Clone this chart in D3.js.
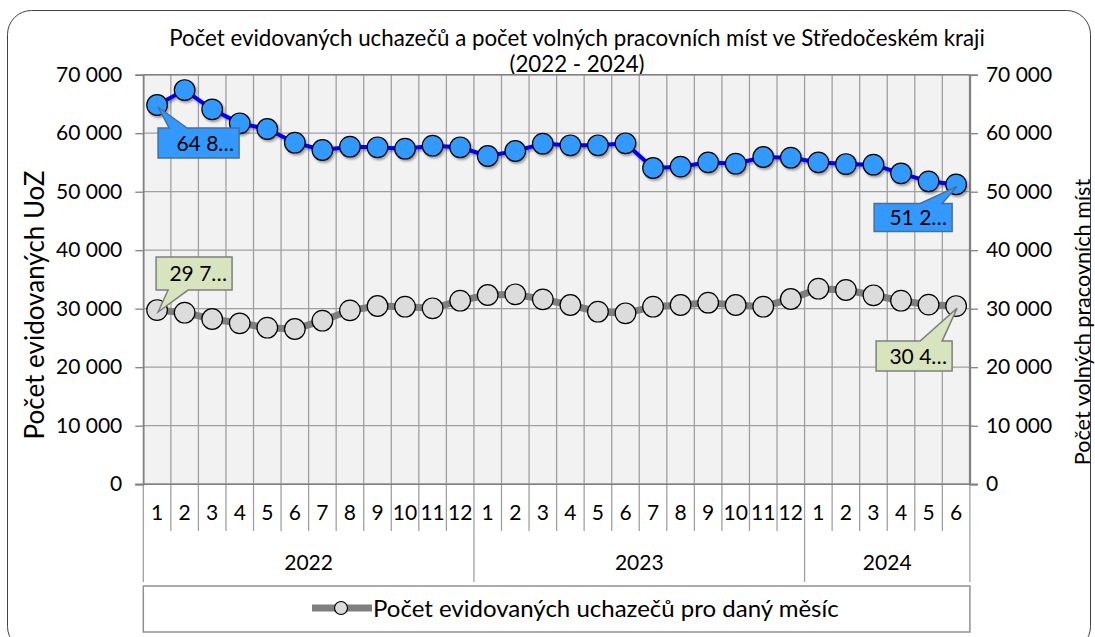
<!DOCTYPE html>
<html><head><meta charset="utf-8">
<script src="https://cdn.jsdelivr.net/npm/d3@7"></script>
<style>
body{margin:0;background:#fff}
svg{display:block}
text{font-family:Lato,"Open Sans",sans-serif;fill:#000}
</style>
</head><body>
<svg id="chart" width="1095" height="637"></svg>
<script>
// ---- data ----
const titleLines = ["Počet evidovaných uchazečů a počet volných pracovních míst ve Středočeském kraji", "(2022 - 2024)"];
const years = ["2022", "2023", "2024"];
const monthsPerYear = [12, 12, 6];
const monthLabels = ["1","2","3","4","5","6","7","8","9","10","11","12",
                     "1","2","3","4","5","6","7","8","9","10","11","12",
                     "1","2","3","4","5","6"];
// Počet evidovaných uchazečů (grey series, left axis)
const uchazeci = [29770, 29320, 28240, 27500, 26750, 26530, 27950, 29720, 30460, 30340, 30070, 31370,
                  32340, 32460, 31600, 30630, 29490, 29210, 30340, 30630, 31030, 30630, 30340, 31660,
                  33420, 33200, 32290, 31370, 30690, 30450];
// Počet volných pracovních míst (blue series, right axis)
const volnaMista = [64820, 67380, 64080, 61690, 60720, 58380, 57130, 57690, 57590, 57350, 57860, 57590,
                    56100, 56960, 58210, 57930, 57930, 58270, 54050, 54280, 55020, 54790, 55930, 55810,
                    55020, 54730, 54620, 53140, 51770, 51250];
const yTicks = [0, 10000, 20000, 30000, 40000, 50000, 60000, 70000];
const yMax = 70000;
const leftAxisTitle = "Počet evidovaných UoZ";
const rightAxisTitle = "Počet volných pracovních míst";
const legendLabel = "Počet evidovaných uchazečů pro daný měsíc";

// ---- layout ----
const W = 1095, H = 637;
const plot = {l: 143.3, r: 969.9, t: 74.7, b: 484.2};
const FS = 21;

const svg = d3.select("#chart");
const loc = d3.formatLocale({decimal: ",", thousands: " ", grouping: [3], currency: ["", ""]});
const fmt = loc.format(",d");
const trunc = v => fmt(v).slice(0, 4) + "…";

const idx = d3.range(monthLabels.length);
const x = d3.scaleBand().domain(idx).range([plot.l, plot.r]).padding(0);
const bw = x.bandwidth();
const cx = i => x(i) + bw / 2;
const yL = d3.scaleLinear().domain([0, yMax]).range([plot.b, plot.t]);
const yR = d3.scaleLinear().domain([0, yMax]).range([plot.b, plot.t]);

const defs = svg.append("defs");
const sh = defs.append("filter").attr("id", "shadow").attr("x", "-30%").attr("y", "-30%").attr("width", "160%").attr("height", "160%");
sh.append("feDropShadow").attr("dx", 1.5).attr("dy", 2).attr("stdDeviation", 1.2).attr("flood-color", "#000").attr("flood-opacity", 0.35);

// outer border
svg.append("rect").attr("x", 7.5).attr("y", 10.5).attr("width", 1083).attr("height", 640)
  .attr("rx", 24).attr("fill", "#fff").attr("stroke", "#404040").attr("stroke-width", 1);

// title
svg.append("text").attr("x", 577).attr("y", 46).attr("text-anchor", "middle").style("font-size", "22.3px").text(titleLines[0]);
svg.append("text").attr("x", 577).attr("y", 72).attr("text-anchor", "middle").style("font-size", "22.3px").text(titleLines[1]);

// plot background
svg.append("rect").attr("x", plot.l).attr("y", plot.t).attr("width", plot.r - plot.l).attr("height", plot.b - plot.t).attr("fill", "#F2F2F2");

// horizontal gridlines
svg.append("g").selectAll("line").data(yTicks).join("line")
  .attr("x1", plot.l).attr("x2", plot.r).attr("y1", d => yL(d)).attr("y2", d => yL(d))
  .attr("stroke", "#A0A0A0").attr("stroke-width", 1.3);

// vertical gridlines + month separators
const bounds = d3.range(monthLabels.length + 1);
const yearStarts = [0];
monthsPerYear.forEach((n, k) => yearStarts.push(yearStarts[k] + n));
svg.append("g").selectAll("line").data(bounds).join("line")
  .attr("x1", i => plot.l + i * bw).attr("x2", i => plot.l + i * bw)
  .attr("y1", plot.t).attr("y2", i => yearStarts.includes(i) ? 582 : 531)
  .attr("stroke", "#A0A0A0").attr("stroke-width", 1.3);

// plot frame top/right
svg.append("line").attr("x1", plot.l).attr("x2", plot.r).attr("y1", plot.t).attr("y2", plot.t).attr("stroke", "#808080").attr("stroke-width", 1.5);
svg.append("line").attr("x1", plot.r).attr("x2", plot.r).attr("y1", plot.t).attr("y2", plot.b).attr("stroke", "#808080").attr("stroke-width", 2);

// axes
const axL = svg.append("g").attr("transform", `translate(${plot.l},0)`)
  .call(d3.axisLeft(yL).tickValues(yTicks).tickSize(8).tickPadding(13).tickFormat(fmt));
const axR = svg.append("g").attr("transform", `translate(${plot.r},0)`)
  .call(d3.axisRight(yR).tickValues(yTicks).tickSize(8).tickPadding(8).tickFormat(fmt));
[axL, axR].forEach(a => {
  a.select(".domain").attr("stroke", "#808080").attr("stroke-width", 1.5);
  a.selectAll(".tick line").attr("stroke", "#808080").attr("stroke-width", 1.3);
  a.selectAll(".tick text").style("font-family", "Lato").style("font-size", FS + "px").attr("fill", "#000");
});
// x axis baseline
svg.append("line").attr("x1", plot.l - 8).attr("x2", plot.r + 8).attr("y1", plot.b).attr("y2", plot.b).attr("stroke", "#808080").attr("stroke-width", 1.5);

// month labels
svg.append("g").selectAll("text").data(idx).join("text")
  .attr("x", i => cx(i)).attr("y", 513).attr("dy", "0.35em").attr("text-anchor", "middle")
  .style("font-size", FS + "px").text(i => monthLabels[i]);
// year labels
svg.append("g").selectAll("text").data(years).join("text")
  .attr("x", (d, k) => plot.l + (yearStarts[k] + monthsPerYear[k] / 2) * bw).attr("y", 563).attr("dy", "0.35em")
  .attr("text-anchor", "middle").style("font-size", FS + "px").text(d => d);

// axis titles
svg.append("text").attr("transform", `translate(44,305) rotate(-90)`)
  .attr("text-anchor", "middle").style("font-size", "26px").text(leftAxisTitle);
svg.append("text").attr("transform", `translate(1090,322) rotate(-90)`)
  .attr("text-anchor", "middle").style("font-size", "21.6px").text(rightAxisTitle);

// grey series
const lineL = d3.line().x((d, i) => cx(i)).y(d => yL(d));
const lineR = d3.line().x((d, i) => cx(i)).y(d => yR(d));
svg.append("path").datum(uchazeci).attr("d", lineL).attr("fill", "none").attr("stroke", "#7F7F7F").attr("stroke-width", 7);
svg.append("g").selectAll("circle").data(uchazeci).join("circle")
  .attr("cx", (d, i) => cx(i)).attr("cy", d => yL(d)).attr("r", 10.3)
  .attr("fill", "#DCDCDC").attr("stroke", "#000").attr("stroke-width", 1.2);

// blue series
const gB = svg.append("g").attr("filter", "url(#shadow)");
gB.append("path").datum(volnaMista).attr("d", lineR).attr("fill", "none").attr("stroke", "#0000FF").attr("stroke-width", 4);
gB.append("g").selectAll("circle").data(volnaMista).join("circle")
  .attr("cx", (d, i) => cx(i)).attr("cy", d => yR(d)).attr("r", 10.3)
  .attr("fill", "#3399FF").attr("stroke", "#000").attr("stroke-width", 1.2);

// callouts
function callout(px, py, o, fill, stroke, label) {
  const x0 = px + o.x0, x1 = px + o.x1, y0 = py + o.y0, y1 = py + o.y1;
  const b0 = px + o.b0, b1 = px + o.b1;
  const tx = px + 1, ty = py + 2;
  let p;
  if (o.side === "top") {
    p = `M${x0},${y0}L${b0},${y0}L${tx},${ty}L${b1},${y0}L${x1},${y0}L${x1},${y1}L${x0},${y1}Z`;
  } else {
    p = `M${x0},${y0}L${x1},${y0}L${x1},${y1}L${b1},${y1}L${tx},${ty}L${b0},${y1}L${x0},${y1}Z`;
  }
  svg.append("path").attr("d", p).attr("fill", fill).attr("stroke", stroke).attr("stroke-width", 1.5).attr("stroke-linejoin", "miter");
  svg.append("text").attr("x", x1 - 5).attr("y", (y0 + y1) / 2).attr("dy", "0.36em")
    .attr("text-anchor", "end").style("font-size", FS + "px").text(label);
}
const last = monthLabels.length - 1;
callout(cx(0), yR(volnaMista[0]), {x0: 1, x1: 82, y0: 23, y1: 53, b0: 12, b1: 30, side: "top"}, "#3399FF", "#4A6F96", trunc(volnaMista[0]));
callout(cx(last), yR(volnaMista[last]), {x0: -82, x1: -4, y0: 19, y1: 47, b0: -36, b1: -14, side: "top"}, "#3399FF", "#4A6F96", trunc(volnaMista[last]));
callout(cx(0), yL(uchazeci[0]), {x0: -1, x1: 75, y0: -53, y1: -20, b0: 11, b1: 31, side: "bottom"}, "#D7E4BD", "#7F7F7F", trunc(uchazeci[0]));
callout(cx(last), yL(uchazeci[last]), {x0: -80, x1: -4, y0: 35, y1: 65, b0: -36, b1: -14, side: "top"}, "#D7E4BD", "#7F7F7F", trunc(uchazeci[last]));

// legend
const lg = svg.append("g");
lg.append("rect").attr("x", plot.l).attr("y", 586).attr("width", plot.r - plot.l).attr("height", 46)
  .attr("fill", "#fff").attr("stroke", "#909090").attr("stroke-width", 1.5);
lg.append("line").attr("x1", 312).attr("x2", 372).attr("y1", 608).attr("y2", 608).attr("stroke", "#7F7F7F").attr("stroke-width", 7);
lg.append("circle").attr("cx", 341).attr("cy", 608).attr("r", 6.5).attr("fill", "#DCDCDC").attr("stroke", "#000").attr("stroke-width", 1.2);
lg.append("text").attr("x", 373).attr("y", 608).attr("dy", "0.36em").style("font-size", "24px").text(legendLabel);
</script>
</body></html>
